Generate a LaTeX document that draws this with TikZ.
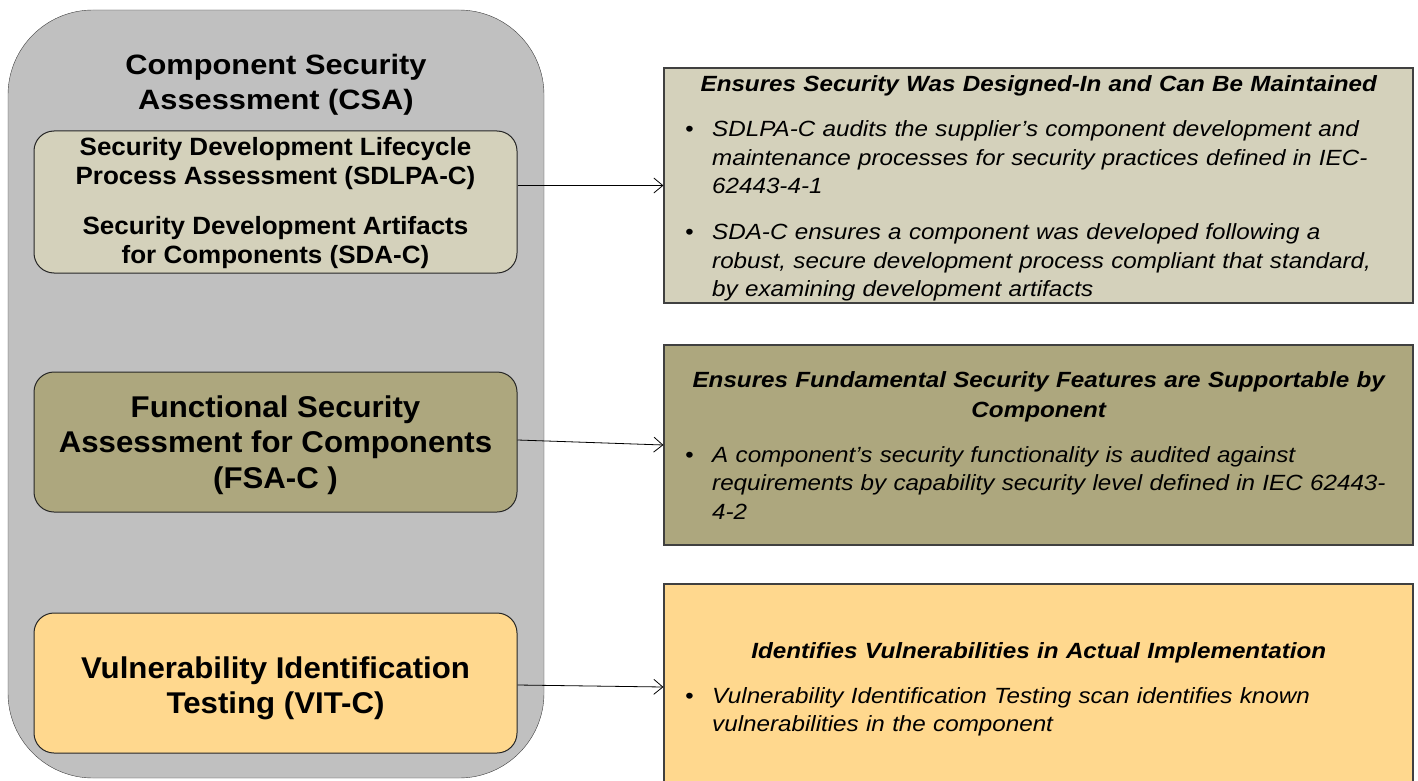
\documentclass[tikz,border=0pt]{standalone}
\usepackage{fontspec}
\setmainfont{Liberation Sans}
\newfontfamily\headfont[FakeStretch=1.1]{Liberation Sans}
\newfontfamily\stagefont[FakeStretch=1.04]{Liberation Sans}
\newfontfamily\descfont[FakeStretch=1.1]{Liberation Sans}
\usetikzlibrary{arrows.meta}
\definecolor{csagray}{RGB}{192,192,192}
\definecolor{sdlfill}{RGB}{212,209,187}
\definecolor{fsafill}{RGB}{173,167,126}
\definecolor{vitfill}{RGB}{255,216,142}
\definecolor{edgegray}{RGB}{64,64,64}

% bullet line, its continuation lines, and a centred heading line
\newcommand{\bline}[1]{\makebox[27pt][l]{\textbullet}#1}
\newcommand{\contline}[1]{\hspace*{27pt}#1}
\newcommand{\btitle}[1]{\makebox[707pt]{\bfseries #1}}

\begin{document}
\begin{tikzpicture}[
            x=1pt,y=-1pt,
            every node/.append style={black},
            outerbox/.style={draw=edgegray,fill=csagray,rounded corners=85pt,
                minimum width=536pt,minimum height=768pt,inner sep=0pt},
            stagebox/.style={draw=black!85,line width=1pt,rounded corners=20pt,
                minimum width=483pt,minimum height=140pt,inner sep=0pt},
            stagetext/.style={anchor=base,align=center,inner sep=0pt},
            descbox/.style={draw=edgegray,line width=1.2pt,
                minimum width=749pt,inner sep=0pt},
            desctext/.style={anchor=base west,inner sep=0pt,text width=707pt,
                align=left,font=\descfont\itshape\fontsize{22}{28.5}\selectfont},
            link/.style={-{Straight Barb[length=9pt,width=15pt]},line width=0.8pt}
        ]
            \useasboundingbox (0,0) rectangle (1418,781);
            % left column (text nodes sit on their last baseline)
            \node[outerbox] (csa) at (276,394) {};
            \node[stagetext,font=\headfont\bfseries\fontsize{28}{35}\selectfont]
                (csatitle) at (276,110) {Component Security\\Assessment (CSA)};
            \node[stagebox,fill=sdlfill,minimum height=142pt] (sdl) at (275.5,202) {};
            \node[stagetext,font=\stagefont\bfseries\fontsize{25}{29}\selectfont]
                (sdltext) at (275.5,263) {Security Development Lifecycle\\
                Process Assessment (SDLPA-C)\\[21pt]
                Security Development Artifacts\\for Components (SDA-C)};
            \node[stagebox,fill=fsafill] (fsa) at (275.5,442) {};
            \node[stagetext,font=\stagefont\bfseries\fontsize{30}{35.5}\selectfont]
                (fsatext) at (275.5,488) {Functional Security\\
                Assessment for Components\\(FSA-C )};
            \node[stagebox,fill=vitfill] (vit) at (275.5,683) {};
            \node[stagetext,font=\stagefont\bfseries\fontsize{30}{35}\selectfont]
                (vittext) at (275.5,713) {Vulnerability Identification\\Testing (VIT-C)};
            % right column
            \node[descbox,fill=sdlfill,minimum height=235pt] (sdlinfo) at (1038.5,185.5) {};
            \node[desctext] (sdlnote) at (685,92) {%
                \btitle{Ensures Security Was Designed-In and Can Be Maintained}\\[16.5pt]
                \bline{SDLPA-C audits the supplier’s component development and}\\
                \contline{maintenance processes for security practices defined in IEC-}\\
                \contline{62443-4-1}\\[17.5pt]
                \bline{SDA-C ensures a component was developed following a}\\
                \contline{robust, secure development process compliant that standard,}\\
                \contline{by examining development artifacts}};
            \node[descbox,fill=fsafill,minimum height=200pt] (fsainfo) at (1038.5,445) {};
            \node[desctext] (fsanote) at (685,387) {%
                \btitle{Ensures Fundamental Security Features are Supportable by}\\[1.5pt]
                \btitle{Component}\\[16.5pt]
                \bline{A component’s security functionality is audited against}\\
                \contline{requirements by capability security level defined in IEC 62443-}\\
                \contline{4-2}};
            \node[descbox,fill=vitfill,minimum height=206pt] (vitinfo) at (1038.5,687) {};
            \node[desctext] (vitnote) at (685,658) {%
                \btitle{Identifies Vulnerabilities in Actual Implementation}\\[16.5pt]
                \bline{Vulnerability Identification Testing scan identifies known}\\
                \contline{vulnerabilities in the component}};
            % connectors
            \draw[link] (sdl.east |- sdlinfo.west) -- (sdlinfo.west);
            \draw[link] ([yshift=2pt]fsa.east) -- (fsainfo.west);
            \draw[link] ([yshift=-2pt]vit.east) -- (vitinfo.west);
        \end{tikzpicture}
\end{document}
